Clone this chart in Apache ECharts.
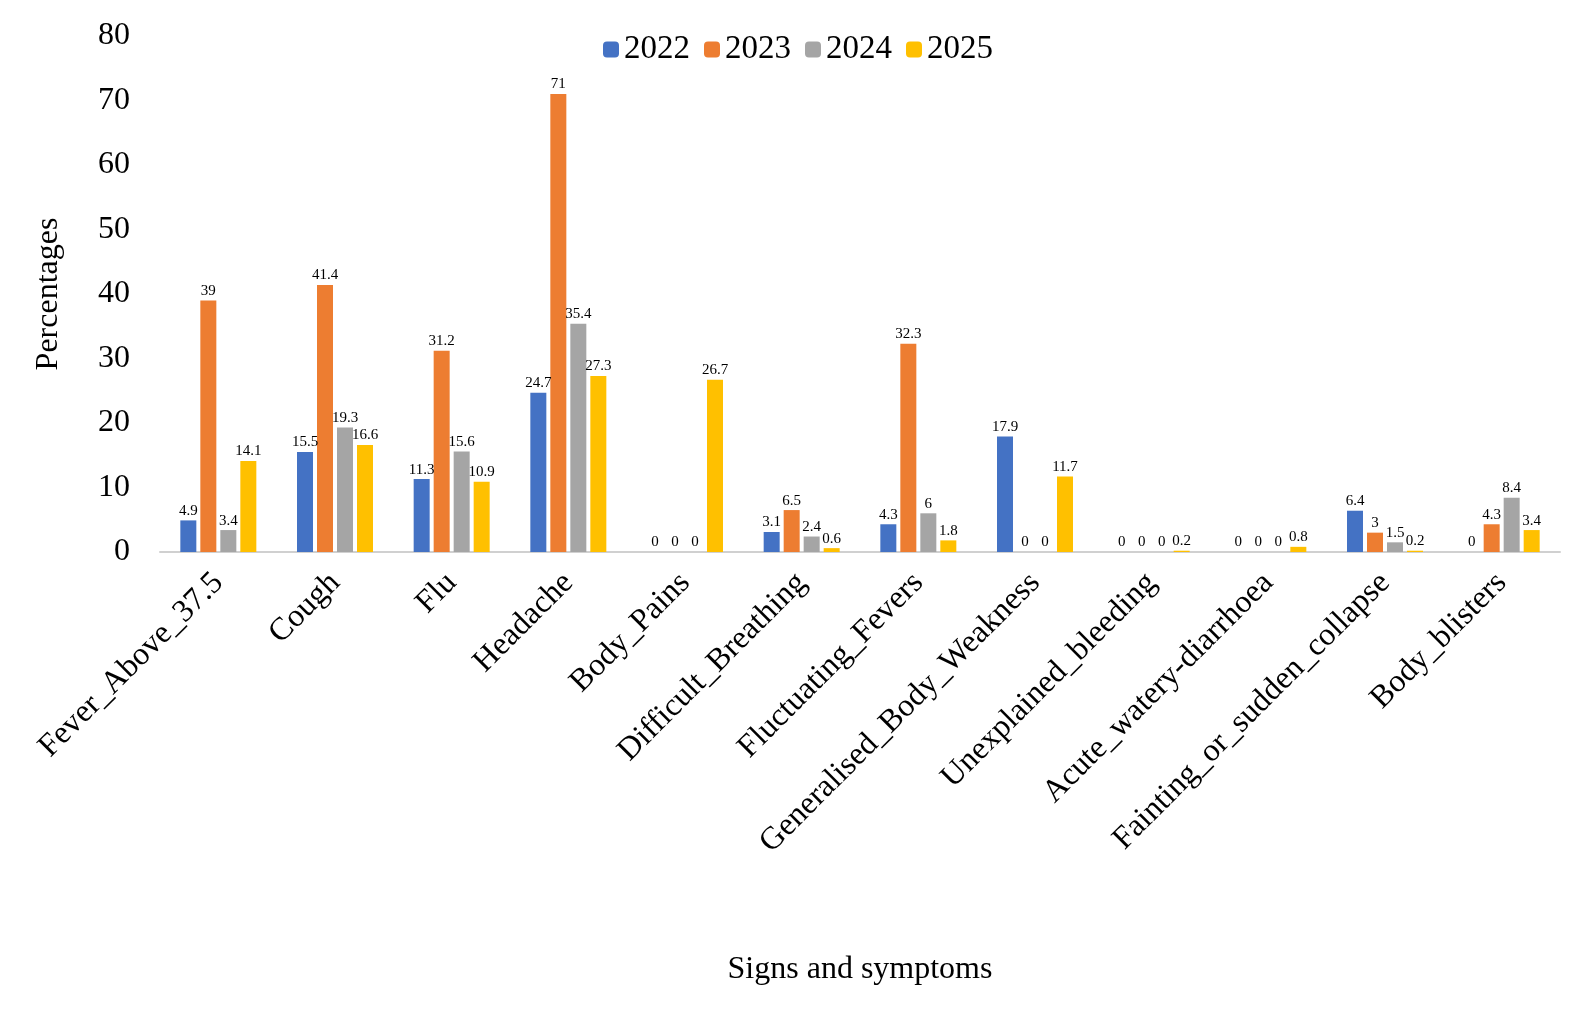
<!DOCTYPE html>
<html><head><meta charset="utf-8">
<script src="https://cdn.jsdelivr.net/npm/echarts@6/dist/echarts.min.js"></script>
<style>html,body{margin:0;padding:0;background:#fff}#chart{width:1596px;height:1016px}</style>
</head><body><div id="chart"></div>
<script>
var categories = ['Fever_Above_37.5', 'Cough', 'Flu', 'Headache', 'Body_Pains', 'Difficult_Breathing',
  'Fluctuating_Fevers', 'Generalised_Body_Weakness', 'Unexplained_bleeding', 'Acute_watery-diarrhoea',
  'Fainting_or_sudden_collapse', 'Body_blisters'];
var years = ['2022', '2023', '2024', '2025'];
var v2022 = [4.9, 15.5, 11.3, 24.7, 0, 3.1, 4.3, 17.9, 0, 0, 6.4, 0];
var v2023 = [39, 41.4, 31.2, 71, 0, 6.5, 32.3, 0, 0, 0, 3, 4.3];
var v2024 = [3.4, 19.3, 15.6, 35.4, 0, 2.4, 6, 0, 0, 0, 1.5, 8.4];
var v2025 = [14.1, 16.6, 10.9, 27.3, 26.7, 0.6, 1.8, 11.7, 0.2, 0.8, 0.2, 3.4];
var colors = ['#4472C4', '#ED7D31', '#A5A5A5', '#FFC000'];
var font = 'Liberation Serif';

var chart = echarts.init(document.getElementById('chart'));
var series = [v2022, v2023, v2024, v2025].map(function (d, i) {
  return {
    name: years[i], type: 'bar', data: d, barWidth: 16, barGap: '25%',
    itemStyle: { color: colors[i] },
    label: { show: true, position: 'top', distance: 2, color: '#000', fontFamily: font, fontSize: 15 }
  };
});
chart.setOption({
  animation: false,
  textStyle: { fontFamily: font },
  legend: {
    top: 28, left: 'center', itemWidth: 16, itemHeight: 16, itemGap: 14,
    textStyle: { fontFamily: font, fontSize: 33, color: '#000' }
  },
  grid: { left: 160, right: 36, top: 36, bottom: 464 },
  xAxis: {
    type: 'category', data: categories,
    name: 'Signs and symptoms', nameLocation: 'middle', nameGap: 402,
    nameTextStyle: { fontFamily: font, fontSize: 32, color: '#000' },
    axisLine: { lineStyle: { color: '#d0d0d0', width: 2 } },
    axisTick: { show: false },
    axisLabel: { rotate: 45, interval: 0, fontFamily: font, fontSize: 32, color: '#000', margin: 26 }
  },
  yAxis: {
    type: 'value', min: 0, max: 80, interval: 10,
    name: 'Percentages', nameLocation: 'middle', nameGap: 95,
    nameTextStyle: { fontFamily: font, fontSize: 32, color: '#000' },
    axisLine: { show: false }, axisTick: { show: false }, splitLine: { show: false },
    axisLabel: { fontFamily: font, fontSize: 32, color: '#000', margin: 30 }
  },
  series: series
});
</script></body></html>
